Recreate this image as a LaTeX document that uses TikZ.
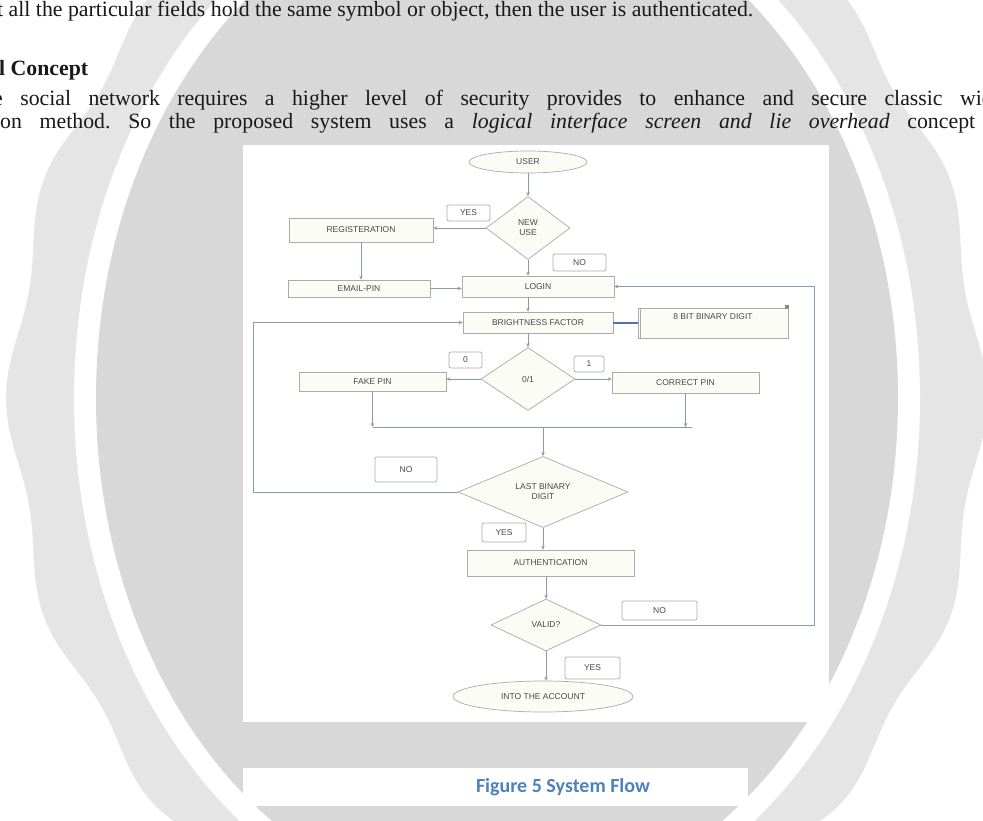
\documentclass[tikz,border=0pt]{standalone}
\usepackage{fontspec}
\setmainfont{Liberation Serif}
\newfontfamily\flowfont{Liberation Sans}
\newfontfamily\capfont{Carlito}
\usetikzlibrary{shapes.geometric,arrows.meta}
\definecolor{sealout}{RGB}{229,229,229}
\definecolor{sealin}{RGB}{216,216,216}
\definecolor{linec}{RGB}{135,155,175}
\definecolor{boxline}{RGB}{172,172,166}
\definecolor{boxfill}{RGB}{252,252,246}
\definecolor{flowtext}{RGB}{72,72,72}
\definecolor{capblue}{RGB}{79,129,189}
\definecolor{linkblue}{RGB}{75,115,185}
\definecolor{bodytext}{RGB}{25,25,25}
\tikzset{
  fnode/.style={draw=boxline, fill=boxfill, line width=0.7pt, text=flowtext,
    font=\flowfont\fontsize{8.5}{10}\selectfont, inner sep=1pt, align=center},
  pbox/.style 2 args={fnode, rectangle, minimum width=#1, minimum height=#2},
  dia/.style 2 args={fnode, diamond, minimum width=#1, minimum height=#2, inner sep=0pt},
  ell/.style 2 args={fnode, ellipse, minimum width=#1, minimum height=#2},
  tag/.style 2 args={fnode, fill=white, rounded corners=2pt, minimum width=#1, minimum height=#2},
  conn/.style={draw=linec, line width=0.8pt},
  arr/.style={conn, -{Stealth[length=4pt,width=3.5pt]}},
  body/.style={anchor=base west, inner sep=0pt, text=bodytext, font=\fontsize{21.8}{24}\selectfont},
}
\begin{document}
\begin{tikzpicture}[x=1pt,y=-1pt]
\useasboundingbox (0,0) rectangle (983,821);
\begin{scope}
\clip (0,0) rectangle (983,821);
\fill[white] (0,0) rectangle (983,821);
% watermark seal
\fill[sealout] plot[domain=0:359, samples=360, smooth cycle]
  ({497+(484+7*cos(16*\x))*cos(\x)}, {398+(560+8*cos(16*\x))*sin(\x)});
\fill[white] (497,398) ellipse [x radius=423pt, y radius=533pt];
\fill[sealin] (497,398) ellipse [x radius=401pt, y radius=511pt];
% white panels
\fill[white] (243,145) rectangle (829,722);
\fill[white] (243,768) rectangle (748,806);
% page text
\node[body] (line1) at (-3,17) {t all the particular fields hold the same symbol or object, then the user is authenticated.};
\node[body, font=\bfseries\fontsize{21.8}{24}\selectfont] (head) at (-1,76) {l Concept};
\node[body] (line3) at (-7,106) {\spaceskip=17.4pt\xspaceskip=17.4pt e social network requires a higher level of security provides to enhance and secure classic wid};
\node[body] (line4) at (0,129) {\makebox[975pt][s]{\frenchspacing on method. So the proposed system uses a \textit{logical interface screen and lie overhead} concept}};
\end{scope}
% flowchart nodes
\node[ell={118pt}{22pt}] (user) at (528,162) {USER};
\node[dia={84pt}{63pt}] (newuser) at (528,228) {NEW\\USE};
\node[tag={43pt}{16pt}] (yes1) at (468.5,213) {YES};
\node[pbox={144pt}{24pt}] (reg) at (361,230) {REGISTERATION};
\node[pbox={142pt}{17pt}] (email) at (359,288.5) {EMAIL-PIN};
\node[pbox={152pt}{21pt}] (login) at (538,286.5) {LOGIN};
\node[tag={53pt}{17pt}] (no1) at (579.5,262.5) {NO};
\node[pbox={150pt}{21pt}] (bright) at (538,322.5) {BRIGHTNESS FACTOR};
\node[pbox={150pt}{30pt}] (bit8) at (713,323) {\raisebox{12pt}{8 BIT BINARY DIGIT}};
\draw[boxline, line width=0.6pt] ([xshift=3pt]bit8.north west) -- ([xshift=3pt]bit8.south west);
\fill[boxline!80!black] ([xshift=-3pt,yshift=-1.5pt]bit8.north east) rectangle ++(4,-4);
\node[dia={94pt}{63pt}] (zeroone) at (528,379) {0/1};
\node[tag={33pt}{16pt}] (zero) at (465.5,360) {0};
\node[pbox={147pt}{19pt}] (fake) at (372.5,381.5) {FAKE PIN};
\node[tag={30pt}{16pt}] (one) at (589,364) {1};
\node[pbox={147pt}{21pt}] (correct) at (685.5,382.5) {CORRECT PIN};
\node[tag={62pt}{25pt}] (nolab) at (406,469.5) {NO};
\node[dia={170pt}{67pt}] (last) at (543,492) {LAST BINARY\\DIGIT};
\node[tag={44pt}{19pt}] (yes2) at (504,532.5) {YES};
\node[pbox={167pt}{26pt}] (auth) at (550.5,563) {AUTHENTICATION};
\node[dia={110pt}{52pt}] (valid) at (546,625) {VALID?};
\node[tag={75pt}{19pt}] (no2) at (659.5,610.5) {NO};
\node[tag={55pt}{22pt}] (yes3) at (592.5,668) {YES};
\node[ell={180pt}{31pt}] (account) at (543,696.5) {INTO THE ACCOUNT};
% helper coordinates
\coordinate (mrow) at (0,427);
\coordinate (mend) at (692,427);
\coordinate (lx) at (253,0);
\coordinate (rx) at (814,0);
% connectors
\draw[arr] (user.south) -- (newuser.north);
\draw[arr] (newuser.west) -- (newuser.west -| reg.east);
\draw[arr] (reg.south) -- (reg.south |- email.north);
\draw[arr] (email.east) -- (email.east -| login.west);
\draw[arr] (newuser.south) -- (newuser.south |- login.north);
\draw[arr] (newuser.south |- login.south) -- (newuser.south |- bright.north);
\draw[draw=linkblue, line width=2pt] (bright.east) -- (bright.east -| bit8.west);
\draw[arr] (newuser.south |- bright.south) -- (zeroone.north);
\draw[arr] (zeroone.west) -- (zeroone.west -| fake.east);
\draw[arr] (zeroone.east) -- (zeroone.east -| correct.west);
\draw[arr] (fake.south) -- (fake.south |- mrow);
\draw[arr] (correct.south) -- (correct.south |- mrow);
\draw[conn] (fake.south |- mrow) -- (mend);
\draw[arr] (last.north |- mrow) -- (last.north);
\draw[arr] (last.west) -- (last.west -| lx) |- (bright.west);
\draw[arr] (last.south) -- (last.south |- auth.north);
\draw[arr] (valid.north |- auth.south) -- (valid.north);
\draw[arr] (valid.east) -- (valid.east -| rx) |- (login.east);
\draw[arr] (valid.south) -- (valid.south |- account.north);
% caption
\node[font=\capfont\bfseries\fontsize{20}{24}\selectfont, text=capblue, inner sep=0pt] (cap) at (563,787) {Figure 5 System Flow};
\end{tikzpicture}
\end{document}
